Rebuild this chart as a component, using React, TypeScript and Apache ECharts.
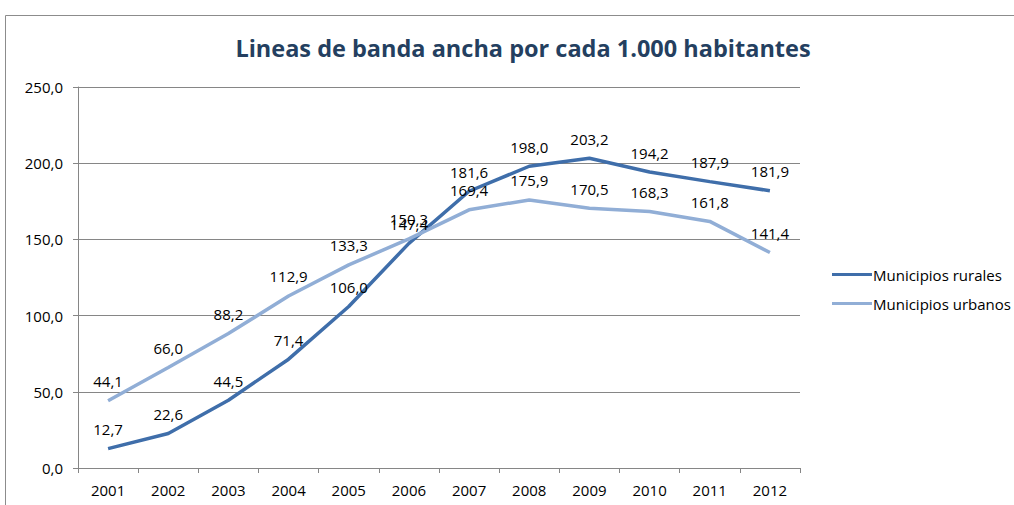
import React, { useEffect, useRef } from "react";
import * as echarts from "echarts";

const years = ["2001","2002","2003","2004","2005","2006","2007","2008","2009","2010","2011","2012"];
const rurales = [12.7, 22.6, 44.5, 71.4, 106.0, 147.4, 181.6, 198.0, 203.2, 194.2, 187.9, 181.9];
const urbanos = [44.1, 66.0, 88.2, 112.9, 133.3, 150.3, 169.4, 175.9, 170.5, 168.3, 161.8, 141.4];
const seriesNames = ["Municipios rurales", "Municipios urbanos"];
const title = "Lineas de banda ancha por cada 1.000 habitantes";

const FONT = "'Open Sans', 'Liberation Sans', sans-serif";
const fmt = (v: number) => v.toFixed(1).replace(".", ",");

export default function App() {
  const ref = useRef<HTMLDivElement>(null);
  useEffect(() => {
    document.body.style.margin = "0";
    const chart = echarts.init(ref.current!, null, { renderer: "svg" });
    const labelCfg = {
      show: true,
      position: "top" as const,
      distance: 12,
      color: "#000",
      fontSize: 15,
      fontFamily: FONT,
      formatter: (p: any) => fmt(p.value),
    };
    chart.setOption({
      animation: false,
      backgroundColor: "#fff",
      title: {
        text: title,
        left: 518,
        top: 31,
        textAlign: "center",
        textStyle: { color: "#243F60", fontSize: 23.5, fontWeight: "bold", fontFamily: FONT },
      },
      graphic: [
        {
          type: "rect",
          shape: { x: 5.5, y: 15.5, width: 1100, height: 600 },
          style: { fill: "none", stroke: "#8c8c8c", lineWidth: 1 },
          silent: true,
        },
      ],
      legend: {
        orient: "vertical",
        left: 827,
        top: 262,
        itemWidth: 40,
        itemHeight: 3,
        itemGap: 14,
        icon: "rect",
        textStyle: { fontSize: 15, fontFamily: FONT, color: "#000", padding: [0, 0, 0, -4] },
        data: seriesNames,
      },
      grid: { left: 78, right: 214, top: 87, bottom: 37, containLabel: false },
      xAxis: {
        type: "category",
        data: years,
        boundaryGap: true,
        axisLine: { lineStyle: { color: "#868686" } },
        axisTick: { show: true, length: 5, lineStyle: { color: "#868686" } },
        axisLabel: { color: "#000", fontSize: 15, fontFamily: FONT, margin: 14 },
      },
      yAxis: {
        type: "value",
        min: 0,
        max: 250,
        interval: 50,
        axisLine: { show: true, lineStyle: { color: "#868686" } },
        axisTick: { show: true, length: 5, lineStyle: { color: "#868686" } },
        splitLine: { lineStyle: { color: "#868686" } },
        axisLabel: { color: "#000", fontSize: 15, fontFamily: FONT, margin: 15, formatter: (v: number) => fmt(v) },
      },
      series: [
        {
          name: seriesNames[0],
          type: "line",
          data: rurales,
          symbol: "circle",
          symbolSize: 0,
          showSymbol: true,
          lineStyle: { color: "#3F6EAA", width: 3.5 },
          itemStyle: { color: "#3F6EAA" },
          label: labelCfg,
          labelLayout: { hideOverlap: false },
        },
        {
          name: seriesNames[1],
          type: "line",
          data: urbanos,
          symbol: "circle",
          symbolSize: 0,
          showSymbol: true,
          lineStyle: { color: "#91AED6", width: 3.5 },
          itemStyle: { color: "#91AED6" },
          label: labelCfg,
          labelLayout: { hideOverlap: false },
        },
      ],
    });
    return () => chart.dispose();
  }, []);
  return <div ref={ref} style={{ width: 1014, height: 505 }} />;
}
